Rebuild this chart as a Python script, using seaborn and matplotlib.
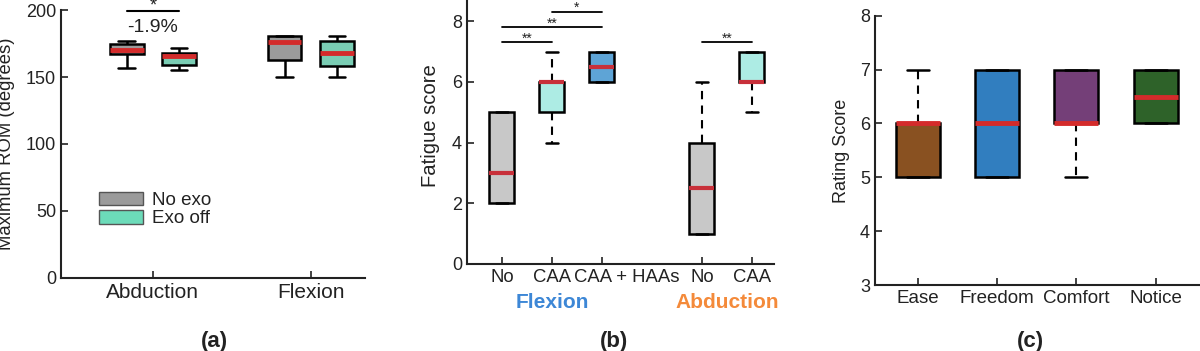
#!/usr/bin/env python3

"""Three box plot panels: ROM, fatigue score and rating score."""

import seaborn as sns
import pandas as pd
import matplotlib.pyplot as plt
from matplotlib.patches import Patch

####################################################################################################
# DATA (five-number summaries: low whisker, q1, median, q3, high whisker)

# (a) maximum ROM
a_motion = ["Abduction", "Abduction", "Flexion", "Flexion"]
a_cond = ["No exo", "Exo off", "No exo", "Exo off"]
a_low = [157, 155.5, 150, 150]
a_q1 = [167, 159, 163, 158.5]
a_med = [170, 166, 176, 168]
a_q3 = [175, 168, 180.5, 177]
a_high = [176.5, 171.5, 180.5, 180.5]

# (b) fatigue score
b_pos = [1, 2, 3, 5, 6]
b_labels = ["No", "CAA", "CAA + HAAs", "No", "CAA"]
b_low = [2, 4, 6, 1, 5]
b_q1 = [2, 5, 6, 1, 6]
b_med = [3, 6, 6.5, 2.5, 6]
b_q3 = [5, 6, 7, 4, 7]
b_high = [5, 7, 7, 6, 7]

# (c) rating score
c_items = ["Ease", "Freedom", "Comfort", "Notice"]
c_low = [5, 5, 5, 6]
c_q1 = [5, 5, 6, 6]
c_med = [6, 6, 6, 6.5]
c_q3 = [6, 7, 7, 7]
c_high = [7, 7, 7, 7]

# colours
a_pal = {"No exo": "#9b9b9b", "Exo off": "#6cdbb9"}
b_pal = ["#c8c8c8", "#a2f6ec", "#4aa8ea", "#c8c8c8", "#a2f6ec"]
c_pal = ["#9a4f10", "#1a80d6", "#7c3581", "#276b1f"]
red = "#d42b2b"
txt = "#222222"

####################################################################################################

sns.set_style("ticks")
plt.rcParams["font.family"] = ["Liberation Sans", "DejaVu Sans"]
plt.rcParams["text.color"] = txt
plt.rcParams["axes.labelcolor"] = txt
plt.rcParams["xtick.color"] = txt
plt.rcParams["ytick.color"] = txt


def five(lows, q1s, meds, q3s, highs):
    """One box -> five values whose 0/25/50/75/100 percentiles are the summary."""
    return [[l, a, m, b, h] for l, a, m, b, h in zip(lows, q1s, meds, q3s, highs)]


def style_axis(ax, xsize, ysize=13):
    sns.despine(ax=ax)
    for s in ["left", "bottom"]:
        ax.spines[s].set_linewidth(1.5)
        ax.spines[s].set_color(txt)
    ax.tick_params(direction="in", length=5, width=1.2)
    ax.tick_params(axis="x", labelsize=xsize)
    ax.tick_params(axis="y", labelsize=ysize)


fig = plt.figure(figsize=(12, 3.51), dpi=100)
ax_a = fig.add_axes([0.0508, 0.208, 0.253, 0.7635])
ax_b = fig.add_axes([0.389, 0.248, 0.256, 0.752])
ax_c = fig.add_axes([0.729, 0.188, 0.271, 0.767])

# ---------------- (a)
rows = []
for g, c, vals in zip(a_motion, a_cond, five(a_low, a_q1, a_med, a_q3, a_high)):
    rows += [{"motion": g, "cond": c, "rom": v} for v in vals]
df_a = pd.DataFrame(rows)
sns.boxplot(data=df_a, x="motion", y="rom", hue="cond", palette=a_pal, ax=ax_a,
            width=0.66, gap=0.36, whis=(0, 100), linecolor="black", linewidth=1.8,
            medianprops=dict(color=red, linewidth=3.5), legend=False)
ax_a.set_xlim(-0.582, 1.34)
ax_a.set_ylim(0, 200)
ax_a.set_yticks([0, 50, 100, 150, 200])
ax_a.set_xlabel("")
ax_a.set_ylabel("Maximum ROM (degrees)", fontsize=13.3)
ax_a.yaxis.set_label_coords(-0.151, 0.5)
style_axis(ax_a, 15)
ax_a.plot([-0.165, 0.165], [199.5, 199.5], color="black", lw=1.5, clip_on=False)
ax_a.text(0, 199.5, "*", ha="center", va="baseline", fontsize=13, clip_on=False)
ax_a.text(0, 193.5, "-1.9%", ha="center", va="top", fontsize=14)
ax_a.legend(handles=[Patch(facecolor=a_pal[k], edgecolor="#555555", label=k) for k in a_pal],
            loc="upper left", bbox_to_anchor=(0.1, 0.35), frameon=False, fontsize=13.5,
            handlelength=2.35, handleheight=0.75, handletextpad=0.5, labelspacing=0.05,
            borderaxespad=0)

# ---------------- (b)
rows = []
for i, (p, vals) in enumerate(zip(b_pos, five(b_low, b_q1, b_med, b_q3, b_high))):
    rows += [{"pos": p, "box": i, "score": v} for v in vals]
df_b = pd.DataFrame(rows)
sns.boxplot(data=df_b, x="pos", y="score", hue="box", palette=b_pal, ax=ax_b,
            native_scale=True, dodge=False, width=0.5, whis=(0, 100),
            linecolor="black", linewidth=1.8, legend=False,
            medianprops=dict(color="#c8303a", linewidth=3),
            whiskerprops=dict(linestyle=(0, (4, 3)), linewidth=1.5),
            capprops=dict(linewidth=1.8))
ax_b.set_xlim(0.3, 6.44)
ax_b.set_ylim(0, 8.7)
ax_b.set_yticks([0, 2, 4, 6, 8])
ax_b.set_xticks(b_pos)
# the long label sits a little right of its tick in the original, so it is drawn by hand
ax_b.set_xticklabels([t if t != "CAA + HAAs" else "" for t in b_labels])
ax_b.annotate(b_labels[2], xy=(b_pos[2], 0), xycoords=("data", "axes fraction"),
              xytext=(18, -3.5), textcoords="offset points", ha="center", va="top",
              fontsize=13.3)
ax_b.set_xlabel("")
ax_b.set_ylabel("Fatigue score", fontsize=14.6)
ax_b.yaxis.set_label_coords(-0.088, 0.525)
style_axis(ax_b, 13.3)
for x0, x1, y, s in [(1, 2, 7.3, "**"), (1, 3, 7.8, "**"), (2, 3, 8.3, "*"), (5, 6, 7.3, "**")]:
    ax_b.plot([x0, x1], [y, y], color="black", lw=1.3)
    ax_b.text((x0 + x1) / 2, y, s, ha="center", va="baseline", fontsize=10, clip_on=False)
ax_b.annotate("Flexion", xy=(2, -0.145), xycoords=("data", "axes fraction"), ha="center",
              va="center", fontsize=15, fontweight="bold", color="#3d87d6")
ax_b.annotate("Abduction", xy=(5.5, -0.145), xycoords=("data", "axes fraction"), ha="center",
              va="center", fontsize=15, fontweight="bold", color="#f48a3a")

# ---------------- (c)
rows = []
for it, vals in zip(c_items, five(c_low, c_q1, c_med, c_q3, c_high)):
    rows += [{"item": it, "rating": v} for v in vals]
df_c = pd.DataFrame(rows)
sns.boxplot(data=df_c, x="item", y="rating", hue="item", order=c_items,
            palette=dict(zip(c_items, c_pal)), ax=ax_c, width=0.555, whis=(0, 100),
            linecolor="black", linewidth=1.8, legend=False,
            medianprops=dict(color=red, linewidth=3.5),
            whiskerprops=dict(linestyle=(0, (4, 3)), linewidth=1.5),
            capprops=dict(linewidth=1.8))
ax_c.set_xlim(-0.54, 3.56)
ax_c.set_ylim(3, 8)
ax_c.set_yticks([3, 4, 5, 6, 7, 8])
ax_c.set_xlabel("")
ax_c.set_ylabel("Rating Score", fontsize=13)
ax_c.yaxis.set_label_coords(-0.077, 0.5)
style_axis(ax_c, 13.5)

# panel letters
for x, letter in [(214, "(a)"), (614, "(b)"), (1030, "(c)")]:
    fig.text(x / 1200, 1 - 341 / 351, letter, ha="center", va="center", fontsize=16,
             fontweight="bold")

fig.savefig("out.png", dpi=100)
